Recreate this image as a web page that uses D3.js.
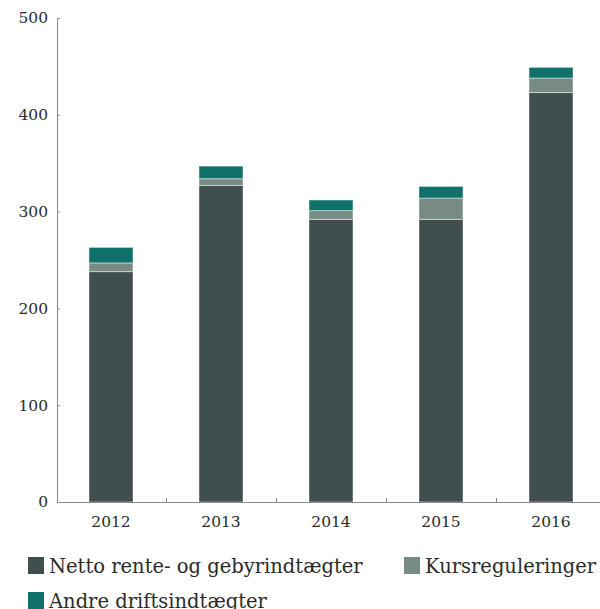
<!DOCTYPE html>
<meta charset="utf-8">
<style>
body { margin: 0; background: #fff; }
svg { display: block; }
.axis path, .axis line { stroke: #8a8a8a; }
.tick text { font-family: "DejaVu Serif", serif; font-size: 15.5px; fill: #2b2b2b; }
.legend text { font-family: "DejaVu Serif", serif; font-size: 19.5px; fill: #2b2b2b; }
</style>
<svg width="600" height="609"></svg>
<script src="https://cdn.jsdelivr.net/npm/d3@7"></script>
<script>

// data
var years = ["2012", "2013", "2014", "2015", "2016"];
var netto = [238, 327, 292, 292, 423];
var kurs = [9, 7, 9, 22, 15];
var andre = [16, 13, 11, 12, 11];
var seriesNames = ["Netto rente- og gebyrindtægter", "Kursreguleringer", "Andre driftsindtægter"];
var colors = ["#404f4e", "#778b84", "#10716b"];
var yTicks = [0, 100, 200, 300, 400, 500];

var svg = d3.select("svg");

var x = d3.scaleBand().domain(years).range([56, 606]).paddingInner(0.6).paddingOuter(0.3);
var y = d3.scaleLinear().domain([0, 500]).range([502, 18]);

// table for the stack
var rows = years.map(function(yr, i) {
  return { year: yr, netto: netto[i], kurs: kurs[i], andre: andre[i] };
});
var stack = d3.stack().keys(["netto", "kurs", "andre"]);
var layers = stack(rows);

svg.append("g")
  .selectAll("g")
  .data(layers)
  .enter().append("g")
    .attr("fill", function(d, i) { return colors[i]; })
  .selectAll("rect")
  .data(function(d) { return d; })
  .enter().append("rect")
    .attr("x", function(d) { return x(d.data.year); })
    .attr("y", function(d) { return y(d[1]); })
    .attr("width", x.bandwidth())
    .attr("height", function(d) { return y(d[0]) - y(d[1]); })
    .attr("stroke", "#ffffff")
    .attr("stroke-opacity", 0.45)
    .attr("stroke-width", 1);

// y axis, ticks pointing inward
var yAxis = svg.append("g")
  .attr("class", "axis")
  .attr("transform", "translate(57,0)")
  .call(d3.axisLeft(y).tickValues(yTicks).tickSizeInner(-3).tickSizeOuter(0));
yAxis.selectAll(".tick text").attr("x", -9);

// x axis: line with small ticks at band boundaries
var xAxis = svg.append("g")
  .attr("class", "axis")
  .attr("transform", "translate(0,502)")
  .call(d3.axisBottom(x).tickSize(0).tickPadding(14));
xAxis.select(".domain").attr("d", "M57,0.5H600");
xAxis.selectAll(".tick text").attr("dy", "0.71em");

var bounds = years.slice(1).map(function(yr) { return x(yr) - x.step() * x.paddingInner() / 2; });
svg.append("g")
  .attr("class", "axis")
  .selectAll("line")
  .data(bounds)
  .enter().append("line")
    .attr("x1", function(d) { return Math.round(d) + 0.5; })
    .attr("x2", function(d) { return Math.round(d) + 0.5; })
    .attr("y1", 502)
    .attr("y2", 498);

// legend
var legendPos = [[28, 557], [404, 557], [28, 592]];
var legend = svg.append("g").attr("class", "legend")
  .selectAll("g")
  .data(seriesNames)
  .enter().append("g")
    .attr("transform", function(d, i) { return "translate(" + legendPos[i][0] + "," + legendPos[i][1] + ")"; });
legend.append("rect")
  .attr("width", 16)
  .attr("height", 17)
  .attr("fill", function(d, i) { return colors[i]; });
legend.append("text")
  .attr("x", 21)
  .attr("y", 16)
  .text(function(d) { return d; });

</script>
